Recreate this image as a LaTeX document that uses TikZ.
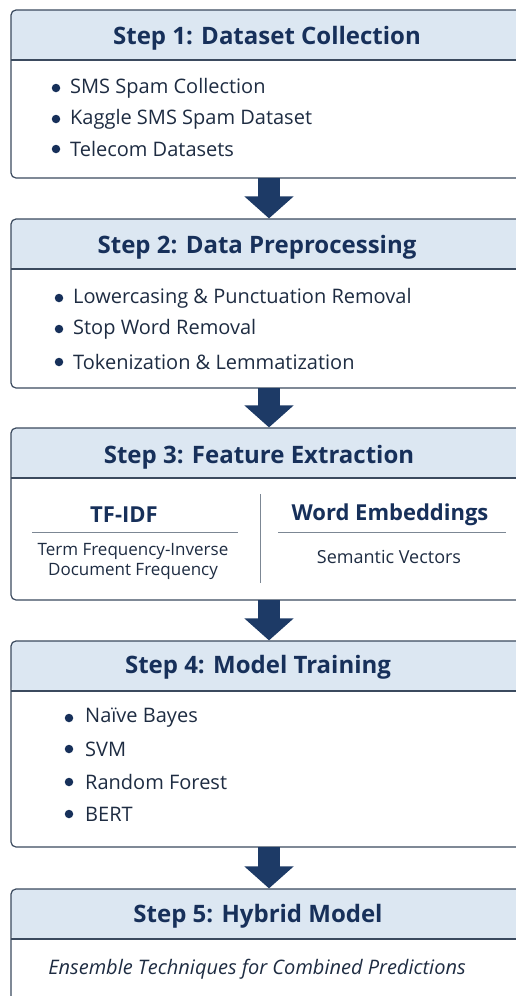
\documentclass[tikz,border=0pt]{standalone}
\usepackage{fontspec}
\setmainfont{Open Sans}
\usetikzlibrary{arrows.meta}
\definecolor{hdrfill}{HTML}{DCE7F2}
\definecolor{bordercol}{HTML}{3B4A5E}
\definecolor{navy}{HTML}{17305A}
\definecolor{bodytxt}{HTML}{1E2C42}
\definecolor{arrowcol}{HTML}{1D3A66}
\definecolor{rulecol}{HTML}{7C8794}
\tikzset{
  stepbox/.style={draw=bordercol, line width=1.2pt, rounded corners=5pt, fill=white,
    minimum width=516pt, inner sep=0pt,
    path picture={\fill[hdrfill] (path picture bounding box.north west) rectangle ([yshift=-50pt]path picture bounding box.north east);
      \draw[bordercol, line width=1.2pt] ([yshift=-50pt]path picture bounding box.north west) -- ([yshift=-50pt]path picture bounding box.north east);}},
  hdrtext/.style={font=\bfseries\fontsize{24}{28}\selectfont, text=navy, inner sep=0pt},
  item/.style={font=\fontsize{20}{24}\selectfont, text=bodytxt, anchor=west, inner sep=0pt},
  bul/.style={circle, fill=navy, inner sep=0pt, minimum size=8.5pt},
  subhdr/.style={font=\bfseries\fontsize{22}{26}\selectfont, text=navy, inner sep=0pt},
  subtxt/.style={font=\fontsize{17}{20}\selectfont, text=bodytxt, inner sep=0pt, align=center},
  flow/.style={arrowcol, line width=22pt, -{Triangle[width=48pt,length=22pt]}, shorten <=-0.6pt},
}
\begin{document}
\begin{tikzpicture}[x=1pt,y=-1pt]
\useasboundingbox (0,0) rectangle (516,996);
% boxes
\node[stepbox, minimum height=168pt] (b1) at (269,94) {};
\node[stepbox, minimum height=169pt] (b2) at (269,303.5) {};
\node[stepbox, minimum height=172pt] (b3) at (269,514) {};
\node[stepbox, minimum height=206pt] (b4) at (269,744) {};
\node[stepbox, minimum height=125pt] (b5) at (269,951.5) {};
% headers
\node[hdrtext] (h1) at (267,38) {Step 1: Dataset Collection};
\node[hdrtext] (h2) at (257,247) {Step 2: Data Preprocessing};
\node[hdrtext] (h3) at (259,457) {Step 3: Feature Extraction};
\node[hdrtext] (h4) at (258,667) {Step 4: Model Training};
\node[hdrtext] (h5) at (258,916) {Step 5: Hybrid Model};
% step 1 items
\node[bul] (p11) at (56,88) {}; \node[item] (t11) at (70,88) {SMS Spam Collection};
\node[bul] (p12) at (56,119) {}; \node[item] (t12) at (70,119) {Kaggle SMS Spam Dataset};
\node[bul] (p13) at (56,149) {}; \node[item] (t13) at (70,149) {Telecom Datasets};
% step 2 items
\node[bul] (p21) at (59,298) {}; \node[item] (t21) at (73,298) {Lowercasing \& Punctuation Removal};
\node[bul] (p22) at (59,329) {}; \node[item] (t22) at (73,329) {Stop Word Removal};
\node[bul] (p23) at (59,362) {}; \node[item] (t23) at (73,362) {Tokenization \& Lemmatization};
% step 3
\node[subhdr] (tf) at (124,515) {TF-IDF};
\node[subhdr] (we) at (390,515) {Word Embeddings};
\draw[rulecol, line width=0.8pt] (32,532) coordinate (l1a) -- (238,532) coordinate (l1b);
\draw[rulecol, line width=0.8pt] (278,532) coordinate (l2a) -- (506,532) coordinate (l2b);
\draw[rulecol, line width=0.8pt] (260,494) coordinate (da) -- (260,583) coordinate (db);
\node[subtxt] (tfd) at (133,561) {Term Frequency-Inverse\\Document Frequency};
\node[subtxt, font=\fontsize{18}{21}\selectfont] (wed) at (389,557) {Semantic Vectors};
% step 4 items
\node[bul] (p41) at (69,718) {}; \node[item] (t41) at (85,718) {Naïve Bayes};
\node[bul] (p42) at (69,749) {}; \node[item] (t42) at (85,749) {SVM};
\node[bul] (p43) at (69,782) {}; \node[item] (t43) at (85,782) {Random Forest};
\node[bul] (p44) at (69,814) {}; \node[item] (t44) at (85,814) {BERT};
% step 5
\node[font=\itshape\fontsize{20}{24}\selectfont, text=bodytxt, inner sep=0pt] (t51) at (257,969) {Ensemble Techniques for Combined Predictions};
% arrows
\draw[flow] (b1.south) -- (b2.north);
\draw[flow] (b2.south) -- (b3.north);
\draw[flow] (b3.south) -- (b4.north);
\draw[flow] (b4.south) -- (b5.north);
\end{tikzpicture}
\end{document}
